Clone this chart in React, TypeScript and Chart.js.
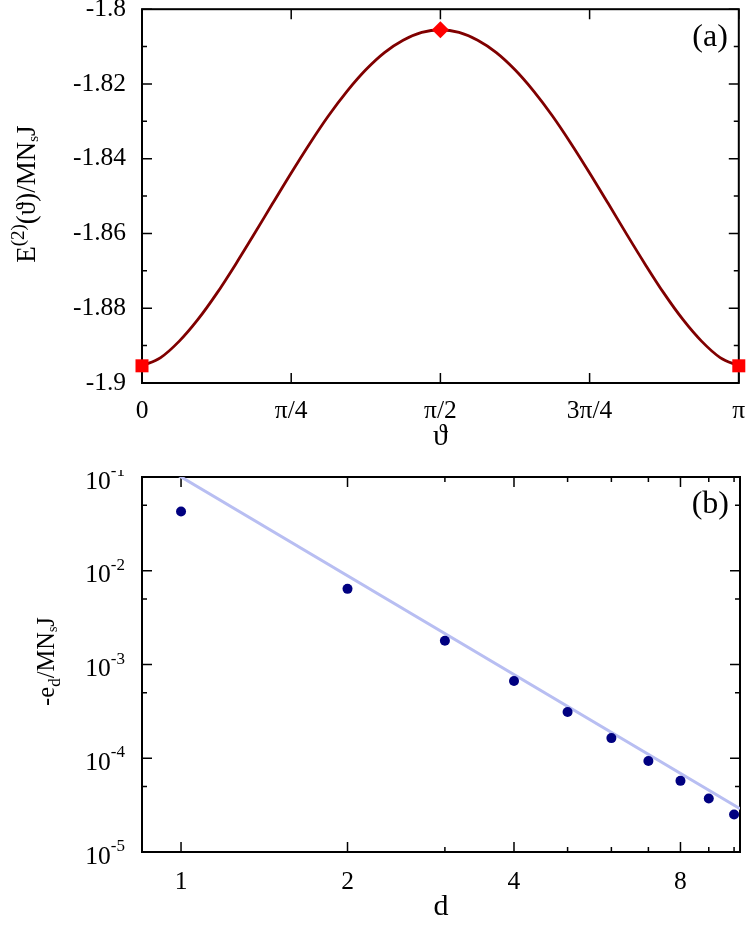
import React, { useEffect, useRef } from 'react';
import { Chart, registerables } from 'chart.js';

Chart.register(...registerables);

// ---------- Panel (a) data ----------
const thetaPi = [
  0, 0.03125, 0.0625, 0.09375, 0.125, 0.15625, 0.1875, 0.21875, 0.25, 0.28125, 0.3125, 0.34375, 0.375, 0.40625, 0.4375, 0.46875, 0.5,
  0.53125, 0.5625, 0.59375, 0.625, 0.65625, 0.6875, 0.71875, 0.75, 0.78125, 0.8125, 0.84375, 0.875, 0.90625, 0.9375, 0.96875, 1,
];
const energy = [
  -1.8954, -1.8932, -1.8888, -1.883, -1.8761, -1.8684, -1.8603, -1.852, -1.8438, -1.8359, -1.8285, -1.8219, -1.8162, -1.8116, -1.8083, -1.8062, -1.8055,
  -1.8062, -1.8083, -1.8116, -1.8162, -1.8219, -1.8285, -1.8359, -1.8438, -1.852, -1.8603, -1.8684, -1.8761, -1.883, -1.8888, -1.8932, -1.8954,
];
const squareTheta = [0, 1];
const squareEnergy = [-1.8954, -1.8954];
const diamondTheta = [0.5];
const diamondEnergy = [-1.8055];
const thetaTickValues = [0, 0.25, 0.5, 0.75, 1];
const thetaTickLabels = ['0', 'π/4', 'π/2', '3π/4', 'π'];
const energyMin = -1.9;
const energyMax = -1.8;
const energyStep = 0.01;

// ---------- Panel (b) data ----------
const dValues = [1, 2, 3, 4, 5, 6, 7, 8, 9, 10];
const edValues = [0.0429, 0.00641, 0.00179, 0.000667, 0.000311, 0.000164, 0.0000935, 0.0000574, 0.0000372, 0.0000251];
const fitD = [0.85, 10.25];
const fitE = [0.177, 0.000029];
const dTickValues = [1, 2, 3, 4, 5, 6, 7, 8, 9, 10];
const dTickLabels = ['1', '2', '', '4', '', '', '', '8', '', ''];
const eTickValues = [1e-5, 5e-5, 1e-4, 5e-4, 1e-3, 5e-3, 1e-2, 5e-2, 1e-1];
const eMajorExponents = [-5, -4, -3, -2, -1];

const SERIF = "'Liberation Serif', 'Times New Roman', 'DejaVu Serif', serif";
const TICK_SIZE = 25.5;

type Seg = { t: string; size: number; dy: number };

function drawRich(ctx: CanvasRenderingContext2D, segs: Seg[], cx: number, cy: number, angle: number) {
  ctx.save();
  ctx.translate(cx, cy);
  ctx.rotate(angle);
  ctx.fillStyle = '#000';
  ctx.textAlign = 'left';
  ctx.textBaseline = 'alphabetic';
  let total = 0;
  const widths = segs.map((s) => {
    ctx.font = `${s.size}px ${SERIF}`;
    const w = ctx.measureText(s.t).width;
    total += w;
    return w;
  });
  let x = -total / 2;
  segs.forEach((s, i) => {
    ctx.font = `${s.size}px ${SERIF}`;
    ctx.fillText(s.t, x, s.dy);
    x += widths[i];
  });
  ctx.restore();
}

function framePlugin(isMajorX: (v: number, i: number) => boolean, isMajorY: (v: number, i: number) => boolean) {
  return {
    id: 'frame',
    beforeDatasetsDraw(chart: any) {
      const { ctx, chartArea } = chart;
      const { left, right, top, bottom } = chartArea;
      const xs = chart.scales.x;
      const ys = chart.scales.y;
      ctx.save();
      ctx.strokeStyle = '#000';
      ctx.lineWidth = 1.5;
      ctx.beginPath();
      xs.ticks.forEach((t: any, i: number) => {
        const px = xs.getPixelForValue(t.value);
        if (px < left - 0.5 || px > right + 0.5) return;
        const len = isMajorX(t.value, i) ? 10 : 5;
        ctx.moveTo(px, bottom);
        ctx.lineTo(px, bottom - len);
        ctx.moveTo(px, top);
        ctx.lineTo(px, top + len);
      });
      ys.ticks.forEach((t: any, i: number) => {
        const py = ys.getPixelForValue(t.value);
        if (py < top - 0.5 || py > bottom + 0.5) return;
        const len = isMajorY(t.value, i) ? 10 : 5;
        ctx.moveTo(left, py);
        ctx.lineTo(left + len, py);
        ctx.moveTo(right, py);
        ctx.lineTo(right - len, py);
      });
      ctx.stroke();
      ctx.lineWidth = 2;
      ctx.strokeRect(left, top, right - left, bottom - top);
      ctx.restore();
    },
  };
}

function zeroPad(s: any) {
  s.paddingLeft = 0;
  s.paddingRight = 0;
  s.paddingTop = 0;
  s.paddingBottom = 0;
}

function TopChart() {
  const ref = useRef<HTMLCanvasElement>(null);
  useEffect(() => {
    const canvas = ref.current!;
    const curve = thetaPi.map((t, i) => ({ x: t, y: energy[i] }));
    const squares = squareTheta.map((t, i) => ({ x: t, y: squareEnergy[i] }));
    const diamonds = diamondTheta.map((t, i) => ({ x: t, y: diamondEnergy[i] }));
    const labelsPlugin = {
      id: 'labelsA',
      afterDraw(chart: any) {
        const { ctx, chartArea } = chart;
        const cx = (chartArea.left + chartArea.right) / 2;
        ctx.save();
        ctx.fillStyle = '#000';
        ctx.font = `30px ${SERIF}`;
        ctx.textAlign = 'center';
        ctx.textBaseline = 'middle';
        ctx.fillText('ϑ', cx, chartArea.bottom + 54);
        ctx.font = `32px ${SERIF}`;
        ctx.textAlign = 'right';
        ctx.fillText('(a)', chartArea.right - 11, chartArea.top + 28);
        ctx.restore();
        drawRich(
          ctx,
          [
            { t: 'E', size: 27, dy: 0 },
            { t: '(2)', size: 19, dy: -11 },
            { t: '(ϑ)/MN', size: 27, dy: 0 },
            { t: 's', size: 15, dy: 3 },
            { t: 'J', size: 27, dy: 0 },
          ],
          35,
          (chartArea.top + chartArea.bottom) / 2 - 2,
          -Math.PI / 2
        );
      },
    };
    const chart = new Chart(canvas, {
      type: 'scatter',
      data: {
        datasets: [
          {
            label: 'squares',
            data: squares,
            pointStyle: 'rect',
            pointRadius: 9.2,
            backgroundColor: '#ff0000',
            borderColor: '#ff0000',
            borderWidth: 0,
            clip: false,
          } as any,
          {
            label: 'diamond',
            data: diamonds,
            pointStyle: 'rectRot',
            pointRadius: 8.5,
            backgroundColor: '#ff0000',
            borderColor: '#ff0000',
            borderWidth: 0,
            clip: false,
          } as any,
          {
            label: 'E2',
            type: 'line',
            data: curve,
            showLine: true,
            borderColor: '#800000',
            borderWidth: 2.8,
            pointRadius: 0,
            cubicInterpolationMode: 'monotone',
            fill: false,
          } as any,
        ],
      },
      options: {
        responsive: false,
        animation: false,
        events: [],
        layout: { padding: { top: 8, right: 8, left: 0, bottom: 0 } },
        plugins: { legend: { display: false }, tooltip: { enabled: false } },
        scales: {
          x: {
            type: 'linear',
            min: 0,
            max: 1,
            afterBuildTicks: (s: any) => {
              s.ticks = thetaTickValues.map((v) => ({ value: v }));
            },
            afterFit: (s: any) => {
              s.height = 87;
              zeroPad(s);
            },
            grid: { display: false, drawTicks: false },
            border: { display: false },
            ticks: {
              autoSkip: false,
              maxRotation: 0,
              padding: 13,
              color: '#000',
              font: { family: SERIF, size: TICK_SIZE },
              callback: (v: any) => {
                const i = thetaTickValues.findIndex((t) => Math.abs(t - Number(v)) < 1e-9);
                return i >= 0 ? thetaTickLabels[i] : '';
              },
            },
          },
          y: {
            type: 'linear',
            min: energyMin,
            max: energyMax,
            afterFit: (s: any) => {
              s.width = 142;
              zeroPad(s);
            },
            grid: { display: false, drawTicks: false },
            border: { display: false },
            ticks: {
              stepSize: energyStep,
              autoSkip: false,
              padding: 16,
              color: '#000',
              font: { family: SERIF, size: TICK_SIZE },
              callback: (v: any, i: number) => (i % 2 === 0 ? String(parseFloat(Number(v).toFixed(2))) : ''),
            },
          },
        },
      },
      plugins: [
        framePlugin(() => true, (_v, i) => i % 2 === 0),
        labelsPlugin,
      ],
    } as any);
    return () => chart.destroy();
  }, []);
  return <canvas ref={ref} width={748} height={470} style={{ position: 'absolute', left: 0, top: 0, width: 748, height: 470 }} />;
}

function BottomChart() {
  const ref = useRef<HTMLCanvasElement>(null);
  useEffect(() => {
    const canvas = ref.current!;
    const pts = dValues.map((d, i) => ({ x: d, y: edValues[i] }));
    const fit = fitD.map((d, i) => ({ x: d, y: fitE[i] }));
    const labelsPlugin = {
      id: 'labelsB',
      afterDraw(chart: any) {
        const { ctx, chartArea } = chart;
        const ys = chart.scales.y;
        const cx = (chartArea.left + chartArea.right) / 2;
        ctx.save();
        ctx.fillStyle = '#000';
        ctx.font = `30px ${SERIF}`;
        ctx.textAlign = 'center';
        ctx.textBaseline = 'middle';
        ctx.fillText('d', cx, chartArea.bottom + 55);
        ctx.font = `32px ${SERIF}`;
        ctx.textAlign = 'right';
        ctx.fillText('(b)', chartArea.right - 11, chartArea.top + 28);
        // y tick labels 10^k
        ctx.textBaseline = 'alphabetic';
        eMajorExponents.forEach((e) => {
          const py = ys.getPixelForValue(Math.pow(10, e));
          const xr = chartArea.left - 17;
          ctx.font = `17px ${SERIF}`;
          const sup = String(e);
          const sw = ctx.measureText(sup).width;
          ctx.fillText(sup, xr, py - 1);
          ctx.font = `${TICK_SIZE}px ${SERIF}`;
          ctx.fillText('10', xr - sw, py + 11.5);
        });
        ctx.restore();
        drawRich(
          ctx,
          [
            { t: '-e', size: 24.5, dy: 0 },
            { t: 'd', size: 17, dy: 6 },
            { t: '/MN', size: 24.5, dy: 0 },
            { t: 's', size: 14, dy: 3 },
            { t: 'J', size: 24.5, dy: 0 },
          ],
          54,
          (chartArea.top + chartArea.bottom) / 2 - 3,
          -Math.PI / 2
        );
      },
    };
    const chart = new Chart(canvas, {
      type: 'scatter',
      data: {
        datasets: [
          {
            label: 'e_d',
            data: pts,
            pointStyle: 'circle',
            pointRadius: 5,
            backgroundColor: '#000080',
            borderColor: '#000080',
            borderWidth: 0,
            clip: false,
          } as any,
          {
            label: 'fit',
            type: 'line',
            data: fit,
            showLine: true,
            borderColor: 'rgb(184,190,242)',
            borderWidth: 3,
            pointRadius: 0,
            fill: false,
          } as any,
        ],
      },
      options: {
        responsive: false,
        animation: false,
        events: [],
        layout: { padding: { top: 7, right: 8, left: 0, bottom: 0 } },
        plugins: { legend: { display: false }, tooltip: { enabled: false } },
        scales: {
          x: {
            type: 'logarithmic',
            min: 0.85,
            max: 10.25,
            afterBuildTicks: (s: any) => {
              s.ticks = dTickValues.map((v) => ({ value: v }));
            },
            afterFit: (s: any) => {
              s.height = 76;
              zeroPad(s);
            },
            grid: { display: false, drawTicks: false },
            border: { display: false },
            ticks: {
              autoSkip: false,
              maxRotation: 0,
              padding: 15,
              color: '#000',
              font: { family: SERIF, size: TICK_SIZE },
              callback: (v: any) => {
                const i = dTickValues.indexOf(Number(v));
                return i >= 0 ? dTickLabels[i] : '';
              },
            },
          },
          y: {
            type: 'logarithmic',
            min: 1e-5,
            max: 1e-1,
            afterBuildTicks: (s: any) => {
              s.ticks = eTickValues.map((v) => ({ value: v }));
            },
            afterFit: (s: any) => {
              s.width = 142;
              zeroPad(s);
            },
            grid: { display: false, drawTicks: false },
            border: { display: false },
            ticks: { display: false, autoSkip: false },
          },
        },
      },
      plugins: [
        framePlugin(
          (v) => dTickLabels[dTickValues.indexOf(v)] !== '',
          (v) => eMajorExponents.some((e) => Math.abs(Math.log10(v) - e) < 1e-6)
        ),
        labelsPlugin,
      ],
    } as any);
    return () => chart.destroy();
  }, []);
  return <canvas ref={ref} width={748} height={458} style={{ position: 'absolute', left: 0, top: 470, width: 748, height: 458 }} />;
}

export default function App() {
  return (
    <div style={{ position: 'absolute', left: 0, top: 0, width: 748, height: 928, background: '#fff' }}>
      <TopChart />
      <BottomChart />
    </div>
  );
}
